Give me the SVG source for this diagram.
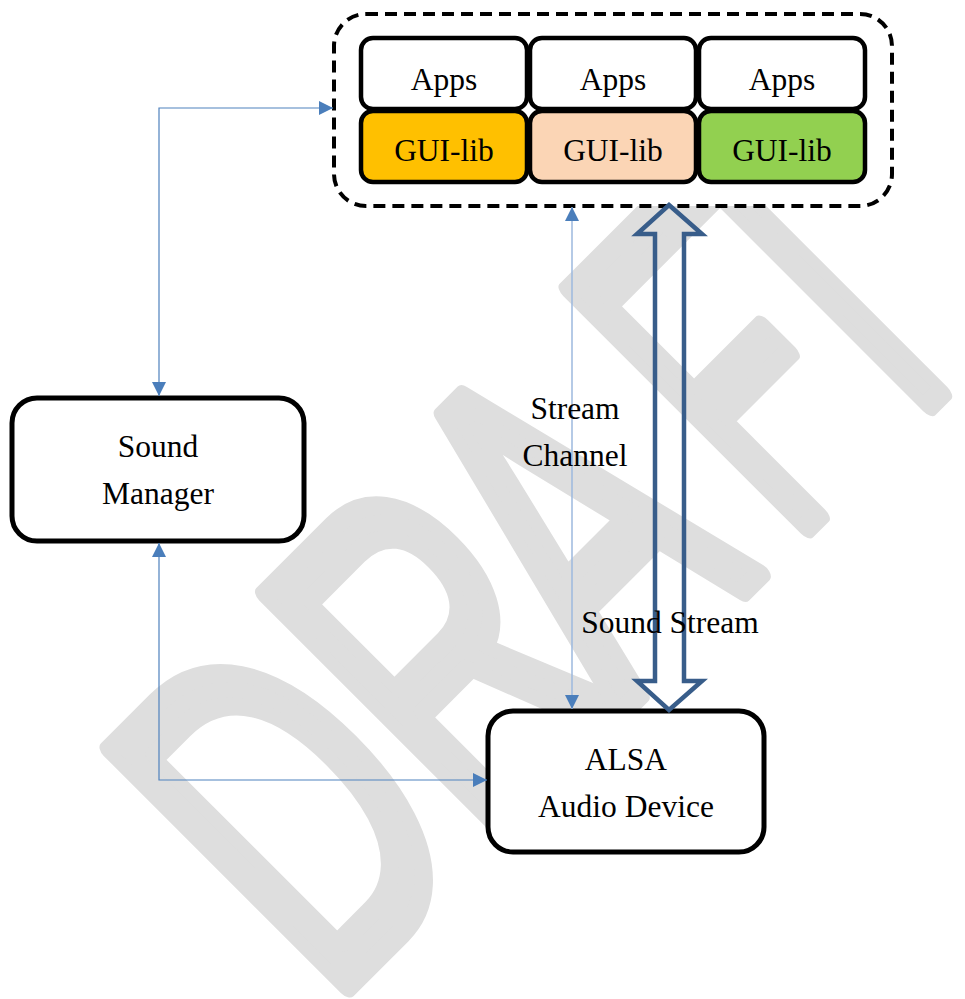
<svg xmlns="http://www.w3.org/2000/svg" width="965" height="999" viewBox="0 0 965 999">
  <defs>
    <marker id="arr" viewBox="0 0 10 10" refX="10" refY="5" markerWidth="14" markerHeight="14" markerUnits="userSpaceOnUse" orient="auto-start-reverse">
      <path d="M0,0 L10,5 L0,10 Z" fill="#4a7ebb"/>
    </marker>
    <style>
      .box { fill: #ffffff; stroke: #000000; stroke-width: 4.5; }
      .big { fill: #ffffff; stroke: #000000; stroke-width: 5; }
      .lbl { font-family: "Liberation Serif", "Times New Roman", serif; font-size: 31.5px; fill: #000000; text-anchor: middle; }
      .thin { fill: none; stroke: #4f81bd; stroke-width: 1.2; }
      .chan { fill: none; stroke: #9cb9de; stroke-width: 1.5; }
      .wm { font-family: "Liberation Sans", Arial, sans-serif; font-size: 488px; fill: #dedede; stroke: #dedede; stroke-width: 18; stroke-linejoin: round; }
    </style>
  </defs>
  <rect width="965" height="999" fill="#ffffff"/>

  <g id="watermark">
    <text class="wm" vector-effect="non-scaling-stroke" transform="translate(328.3,1006.1) rotate(-45) scale(0.62,1)">D</text>
    <text class="wm" vector-effect="non-scaling-stroke" transform="translate(483.8,850.6) rotate(-45) scale(0.62,1)">R</text>
    <text class="wm" vector-effect="non-scaling-stroke" transform="translate(619.6,714.8) rotate(-45) scale(0.62,1)">A</text>
    <text class="wm" vector-effect="non-scaling-stroke" transform="translate(790.7,543.7) rotate(-45) scale(0.5,1)">F</text>
    <text class="wm" vector-effect="non-scaling-stroke" transform="translate(882.6,451.8) rotate(-45) scale(0.5,1)">T</text>
  </g>

  <g id="app-container">
    <rect x="334" y="14" width="558" height="192" rx="32" ry="32" fill="#ffffff" stroke="#000000" stroke-width="4" stroke-dasharray="12 7"/>
  </g>

  <g id="apps-1">
    <rect class="box" x="361" y="38" width="166" height="71" rx="12"/>
    <text class="lbl" x="444" y="90">Apps</text>
  </g>
  <g id="apps-2">
    <rect class="box" x="530" y="38" width="166" height="71" rx="12"/>
    <text class="lbl" x="613" y="90">Apps</text>
  </g>
  <g id="apps-3">
    <rect class="box" x="699" y="38" width="166" height="71" rx="12"/>
    <text class="lbl" x="782" y="90">Apps</text>
  </g>
  <g id="gui-lib-1">
    <rect class="box" x="361" y="111" width="166" height="71" rx="12" style="fill:#ffc000"/>
    <text class="lbl" x="444" y="161">GUI-lib</text>
  </g>
  <g id="gui-lib-2">
    <rect class="box" x="530" y="111" width="166" height="71" rx="12" style="fill:#fbd5b5"/>
    <text class="lbl" x="613" y="161">GUI-lib</text>
  </g>
  <g id="gui-lib-3">
    <rect class="box" x="699" y="111" width="166" height="71" rx="12" style="fill:#92d050"/>
    <text class="lbl" x="782" y="161">GUI-lib</text>
  </g>

  <g id="sound-manager">
    <rect class="big" x="12" y="398" width="292" height="143" rx="25"/>
    <text class="lbl" x="158" y="457">Sound</text>
    <text class="lbl" x="158" y="504">Manager</text>
  </g>

  <g id="alsa">
    <rect class="big" x="488" y="711" width="276" height="141" rx="25"/>
    <text class="lbl" x="626" y="770">ALSA</text>
    <text class="lbl" x="626" y="817">Audio Device</text>
  </g>

  <g id="connectors">
    <path class="thin" d="M159,396 L159,108 L333,108" marker-start="url(#arr)" marker-end="url(#arr)"/>
    <path class="thin" d="M159,543 L159,780 L487,780" marker-start="url(#arr)" marker-end="url(#arr)"/>
    <path class="chan" d="M572,207 L572,709" marker-start="url(#arr)" marker-end="url(#arr)"/>
    <path d="M669,205 L702,234 L684,234 L684,681 L702,681 L669,710 L637,681 L655,681 L655,234 L637,234 Z" fill="none" stroke="#385d8a" stroke-width="4.5" stroke-linejoin="miter"/>
    <text class="lbl" x="575" y="419">Stream</text>
    <text class="lbl" x="575" y="466">Channel</text>
    <text class="lbl" x="670" y="633">Sound Stream</text>
  </g>
</svg>
